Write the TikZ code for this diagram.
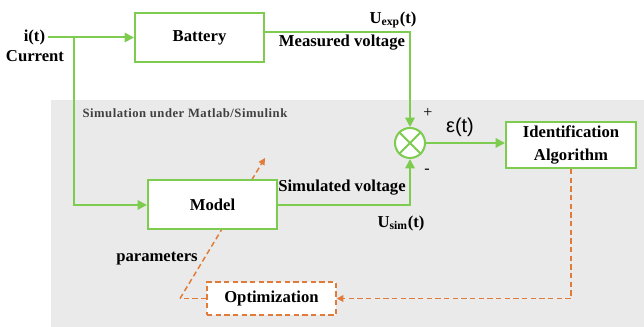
\documentclass[tikz,border=0pt]{standalone}
\usepackage{fontspec}
\setmainfont{Liberation Serif}
\newfontfamily\sansfont{Liberation Sans}
\newfontfamily\notefont[LetterSpace=4]{Liberation Serif}
\usetikzlibrary{arrows.meta,positioning}
\definecolor{leaf}{HTML}{7DCB4F}
\definecolor{rust}{HTML}{E07B39}
\definecolor{panel}{HTML}{EAEAEA}
\definecolor{inkgray}{HTML}{404040}
\tikzset{>={Triangle[length=7pt,width=7pt]},
  every node/.style={font=\bfseries\fontsize{12.5}{17}\selectfont},
  block/.style={draw=leaf,fill=white,line width=1.5pt,minimum width=96.75pt,
    minimum height=36.75pt,inner sep=2pt,align=center},
  optbox/.style={draw=rust,fill=white,dashed,dash pattern=on 4pt off 2.5pt,
    line width=1.1pt,minimum width=96.75pt,minimum height=24.75pt,inner sep=2pt},
  wire/.style={draw=leaf,line width=1.5pt},
  feed/.style={draw=rust,line width=1.1pt,dash pattern=on 4pt off 2.5pt,
    -{Triangle[length=5pt,width=5pt]}},
  mark sign/.style={font=\normalfont\fontsize{12}{14}\selectfont}}

\begin{document}
\begin{tikzpicture}[x=.75pt,y=-.75pt]
\useasboundingbox (0,0) rectangle (644,327);
\fill[panel] (51,100) rectangle (644,327);
\coordinate (bend) at (180,298.5);\coordinate (tip) at (265,158);\coordinate (split) at (74,37.5);
\draw[feed] (bend)--(tip);
% blocks
\node[block] (batt) at (199.5,37.5) {Battery};
\node[block] (model) at (212.5,205) {Model};
\node[block,minimum width=97.5pt,minimum height=34.5pt] (ident) at (571,145) {Identification\\Algorithm};
\node[circle,draw=leaf,fill=white,line width=1.5pt,minimum size=22.5pt,inner sep=0pt] (sum) at (410,143) {};
\draw[wire] (sum.north west)--(sum.south east) (sum.north east)--(sum.south west);
\node[optbox] (optim) at (271.5,298.5) {Optimization};
% texts
\node[anchor=east,inner sep=2pt] (input) at (48,37.5) {i(t)};\node (curr) at (35,56) {Current};
\node (uexp) at (393,20) {U\textsubscript{exp}(t)};\node (meas) at (342,43) {Measured voltage};
\node (sim) at (342,188) {Simulated voltage};\node (usim) at (401,223) {U\textsubscript{sim}(t)};
\node[font=\sansfont\fontsize{15}{17}\selectfont] (err) at (460,127) {ε(t)};
\node[mark sign] (plus) at (428,113) {+};\node[mark sign] (minus) at (427,171) {-};
\node (par) at (157,259) {parameters};
\node[anchor=west,inner sep=1pt,text=inkgray,font=\notefont\bfseries\fontsize{9.5}{11}\selectfont] (note) at (81,113) {Simulation under Matlab/Simulink};
% connectors
\draw[wire,->] (input.east)--(batt.west);\draw[wire,->] (split)|-(model.west);
\draw[wire,->] ([yshift=3.75pt]batt.east)-|(sum.north);\draw[wire,->] (model.east)-|(sum.south);
\draw[wire,->] (sum.east)--(ident.west|-sum.east);
\draw[feed] (ident.south)|-(optim.east);
\draw[feed,-] (optim.west)--(bend);
\end{tikzpicture}
\end{document}
